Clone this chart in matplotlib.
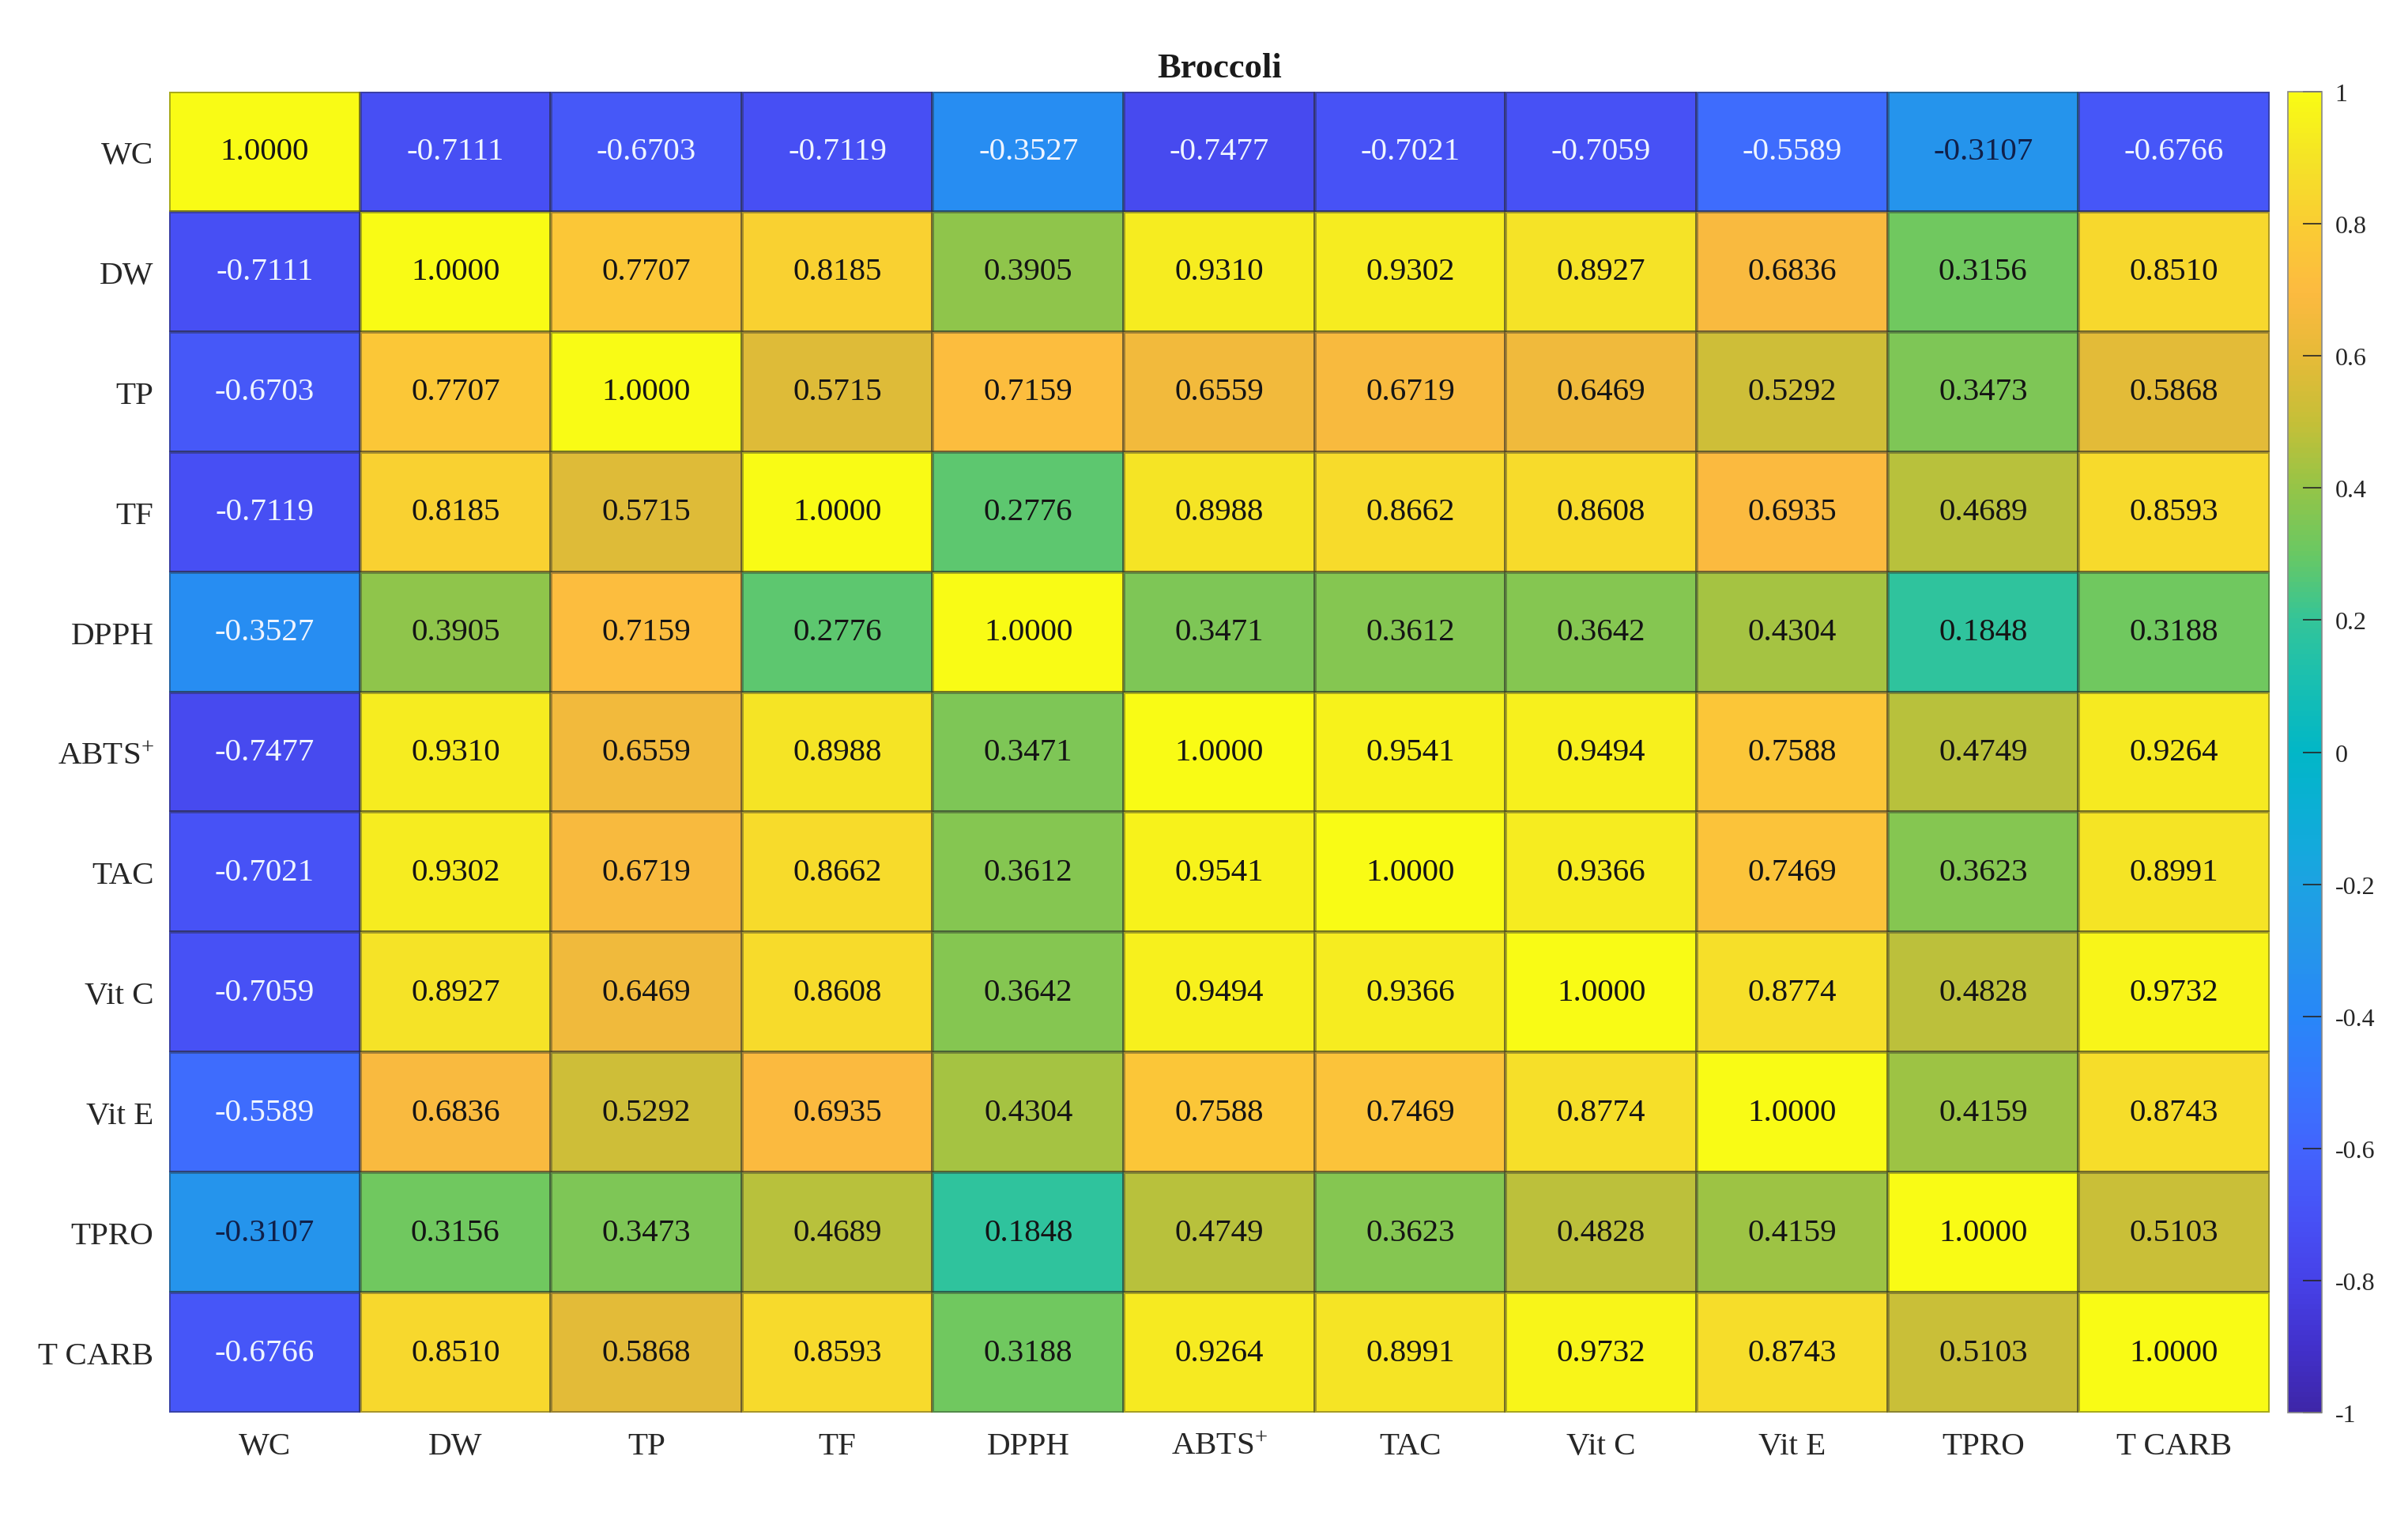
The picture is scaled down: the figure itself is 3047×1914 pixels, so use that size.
import matplotlib
matplotlib.use("Agg")
import matplotlib.pyplot as plt
from matplotlib.colors import LinearSegmentedColormap
import numpy as np

# ---- data -------------------------------------------------------------------
labels = ["WC", "DW", "TP", "TF", "DPPH", "ABTS$^{+}$", "TAC", "Vit C", "Vit E",
          "TPRO", "T CARB"]

wc    = [1.0000, -0.7111, -0.6703, -0.7119, -0.3527, -0.7477, -0.7021, -0.7059, -0.5589, -0.3107, -0.6766]
dw    = [-0.7111, 1.0000, 0.7707, 0.8185, 0.3905, 0.9310, 0.9302, 0.8927, 0.6836, 0.3156, 0.8510]
tp    = [-0.6703, 0.7707, 1.0000, 0.5715, 0.7159, 0.6559, 0.6719, 0.6469, 0.5292, 0.3473, 0.5868]
tf    = [-0.7119, 0.8185, 0.5715, 1.0000, 0.2776, 0.8988, 0.8662, 0.8608, 0.6935, 0.4689, 0.8593]
dpph  = [-0.3527, 0.3905, 0.7159, 0.2776, 1.0000, 0.3471, 0.3612, 0.3642, 0.4304, 0.1848, 0.3188]
abts  = [-0.7477, 0.9310, 0.6559, 0.8988, 0.3471, 1.0000, 0.9541, 0.9494, 0.7588, 0.4749, 0.9264]
tac   = [-0.7021, 0.9302, 0.6719, 0.8662, 0.3612, 0.9541, 1.0000, 0.9366, 0.7469, 0.3623, 0.8991]
vitc  = [-0.7059, 0.8927, 0.6469, 0.8608, 0.3642, 0.9494, 0.9366, 1.0000, 0.8774, 0.4828, 0.9732]
vite  = [-0.5589, 0.6836, 0.5292, 0.6935, 0.4304, 0.7588, 0.7469, 0.8774, 1.0000, 0.4159, 0.8743]
tpro  = [-0.3107, 0.3156, 0.3473, 0.4689, 0.1848, 0.4749, 0.3623, 0.4828, 0.4159, 1.0000, 0.5103]
tcarb = [-0.6766, 0.8510, 0.5868, 0.8593, 0.3188, 0.9264, 0.8991, 0.9732, 0.8743, 0.5103, 1.0000]

cbar_ticks = [-1, -0.8, -0.6, -0.4, -0.2, 0, 0.2, 0.4, 0.6, 0.8, 1]
cbar_ticklabels = ["-1", "-0.8", "-0.6", "-0.4", "-0.2", "0", "0.2", "0.4", "0.6", "0.8", "1"]

# ---- parula-like colormap ---------------------------------------------------
PARULA = [
    (0.00, (0.2422, 0.1504, 0.6603)),
    (0.05, (0.2586, 0.1918, 0.8020)),
    (0.10, (0.2760, 0.2590, 0.9120)),
    (0.15, (0.2790, 0.3220, 0.9650)),
    (0.20, (0.2600, 0.3940, 0.9930)),
    (0.25, (0.2120, 0.4660, 0.9920)),
    (0.30, (0.1560, 0.5300, 0.9720)),
    (0.35, (0.1450, 0.5850, 0.9200)),
    (0.40, (0.1130, 0.6370, 0.8870)),
    (0.45, (0.0500, 0.6820, 0.8420)),
    (0.50, (0.0060, 0.7150, 0.7800)),
    (0.55, (0.0900, 0.7470, 0.7000)),
    (0.60, (0.2000, 0.7700, 0.6000)),
    (0.65, (0.4100, 0.7850, 0.3900)),
    (0.70, (0.5800, 0.7700, 0.2800)),
    (0.75, (0.7700, 0.7500, 0.2200)),
    (0.80, (0.9000, 0.7300, 0.2200)),
    (0.85, (0.9900, 0.7300, 0.2500)),
    (0.90, (0.9800, 0.8000, 0.2000)),
    (0.95, (0.9600, 0.8900, 0.1500)),
    (1.00, (0.9769, 0.9839, 0.0805)),
]
cmap = LinearSegmentedColormap.from_list("parula_like", PARULA, N=256)

plt.rcParams.update({
    "font.family": ["Liberation Serif", "DejaVu Serif"],
    "mathtext.fontset": "custom",
    "mathtext.rm": "Liberation Serif",
    "mathtext.it": "Liberation Serif:italic",
    "mathtext.bf": "Liberation Serif:bold",
})

TXT = "#262626"


def main():
    mat = np.array([wc, dw, tp, tf, dpph, abts, tac, vitc, vite, tpro, tcarb])
    n = len(labels)

    fig = plt.figure(figsize=(30.47, 19.15), dpi=100)
    ax = fig.add_axes([0.0702, 0.0663, 0.8723, 0.8726])
    cax = fig.add_axes([0.9501, 0.0663, 0.0141, 0.8726])

    mesh = ax.pcolormesh(np.arange(n + 1), np.arange(n + 1), mat, cmap=cmap,
                         vmin=-1, vmax=1, edgecolors=(0.15, 0.15, 0.15, 0.38),
                         linewidth=1.6)
    ax.set_xlim(0, n)
    ax.set_ylim(n, 0)

    for i in range(n):
        for j in range(n):
            v = mat[i, j]
            col = "#eef4ff" if v < -0.33 else ("#10204a" if v < 0 else "#141414")
            ax.text(j + 0.5, i + 0.5, f"{v:.4f}", ha="center", va="center",
                    fontsize=29.5, color=col)

    ax.set_xticks(np.arange(n) + 0.5)
    ax.set_yticks(np.arange(n) + 0.5)
    ax.set_xticklabels(labels, fontsize=29.5, color=TXT)
    ax.set_yticklabels(labels, fontsize=29.5, color=TXT)
    ax.tick_params(length=0, pad=14)
    ax.tick_params(axis="x", pad=17)
    for sp in ax.spines.values():
        sp.set_visible(False)

    ax.set_title("Broccoli", fontsize=32, fontweight="bold", color="#1a1a1a", pad=14)

    cb = fig.colorbar(mesh, cax=cax, ticks=cbar_ticks)
    cb.ax.set_yticklabels(cbar_ticklabels)
    cb.ax.tick_params(direction="in", length=17, width=1.2, labelsize=23,
                      colors=TXT, pad=12)
    cb.outline.set_edgecolor("#888888")
    cb.outline.set_linewidth(1.2)

    fig.savefig("out.png", dpi=100, facecolor="white")


if __name__ == "__main__":
    main()
